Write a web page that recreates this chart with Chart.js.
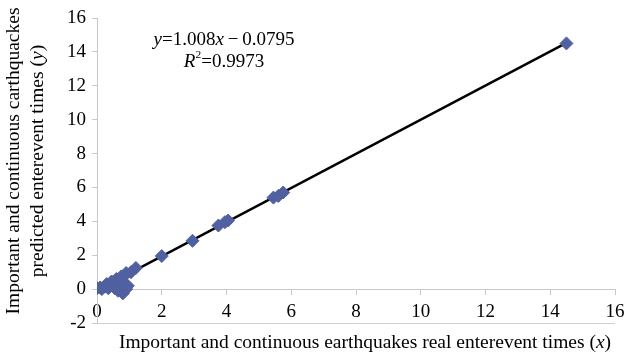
<!DOCTYPE html>
<html>
<head>
<meta charset="utf-8">
<script src="https://cdn.jsdelivr.net/npm/chart.js@4/dist/chart.umd.min.js"></script>
<style>
  html, body { margin: 0; padding: 0; background: #fff; }
  #wrap { width: 627px; height: 358px; }
</style>
</head>
<body>
<div id="wrap"><canvas id="fitChart"></canvas></div>
<script>
// real vs predicted enterevent times
const realTimes = [
  -0.1, 0.0, 0.1, 0.15, 0.25, 0.3, 0.35, 0.4, 0.45, 0.5, 0.55, 0.55, 0.6, 0.65,
  0.7, 0.75, 0.75, 0.8, 0.85, 0.9, 0.9, 0.95, 1.05, 1.2,
  2.0, 2.95, 3.75, 3.95, 4.05, 5.45, 5.6, 5.75, 14.5
];
const predictedTimes = [
  0.0, 0.05, 0.1, 0.0, 0.15, 0.3, 0.05, 0.25, 0.45, 0.2, 0.4, 0.05, 0.6, -0.1,
  0.55, 0.75, 0.1, -0.25, 0.8, 0.95, 0.0, 0.2, 1.0, 1.25,
  1.95, 2.85, 3.75, 3.95, 4.05, 5.4, 5.5, 5.7, 14.5
];
const xTicks = [0, 2, 4, 6, 8, 10, 12, 14, 16];
const yTicks = [-2, 0, 2, 4, 6, 8, 10, 12, 14, 16];

// regression y = a*x + b
const slope = 1.008;
const intercept = -0.0795;
const rSquared = 0.9973;

const SERIF = '"Liberation Serif", "DejaVu Serif", serif';
const pointColor = '#5060a0';

const points = realTimes.map((x, i) => ({ x: x, y: predictedTimes[i] }));
const fitX = [0, Math.max(...realTimes)];
const fitLine = fitX.map(x => ({ x: x, y: slope * x + intercept }));

// draws a row of text pieces, some in italics
function drawRich(ctx, parts, cx, cy, size) {
  let total = 0;
  parts.forEach(p => {
    ctx.font = (p.it ? 'italic ' : '') + (p.sup ? size * 0.6 : size) + 'px ' + SERIF;
    p.w = ctx.measureText(p.t).width;
    total += p.w;
  });
  let x = cx - total / 2;
  parts.forEach(p => {
    ctx.font = (p.it ? 'italic ' : '') + (p.sup ? size * 0.6 : size) + 'px ' + SERIF;
    ctx.fillText(p.t, x, p.sup ? cy - size * 0.35 : cy);
    x += p.w;
  });
}

const labelsPlugin = {
  id: 'labelsPlugin',
  afterDraw(chart) {
    const ctx = chart.ctx;
    ctx.save();
    ctx.fillStyle = '#000';
    ctx.textBaseline = 'middle';
    ctx.textAlign = 'left';
    const fs = 19.5;
    // equation box
    drawRich(ctx, [
      { t: 'y', it: true }, { t: '=' + slope.toFixed(3) },
      { t: 'x', it: true }, { t: '\u2009\u2212\u2009' + Math.abs(intercept).toFixed(4) }
    ], 224, 40, 19);
    drawRich(ctx, [
      { t: 'R', it: true }, { t: '2', sup: true }, { t: '=' + rSquared.toFixed(4) }
    ], 224, 62, 19);
    // x axis title
    drawRich(ctx, [
      { t: 'Important and continuous earthquakes real enterevent times (' },
      { t: 'x', it: true }, { t: ')' }
    ], 365, 343, fs);
    // y axis title, two rotated lines
    ctx.save();
    ctx.translate(14, 161);
    ctx.rotate(-Math.PI / 2);
    drawRich(ctx, [{ t: 'Important and continuous carthquackes' }], 0, 0, fs);
    ctx.restore();
    ctx.save();
    ctx.translate(38, 161);
    ctx.rotate(-Math.PI / 2);
    drawRich(ctx, [
      { t: 'predicted enterevent times (' }, { t: 'y', it: true }, { t: ')' }
    ], 0, 0, fs);
    ctx.restore();
    ctx.restore();
  }
};

new Chart(document.getElementById('fitChart'), {
  type: 'scatter',
  data: {
    datasets: [
      {
        type: 'line',
        data: fitLine,
        borderColor: '#000',
        borderWidth: 2.5,
        pointRadius: 0,
        fill: false,
        order: 2
      },
      {
        data: points,
        pointStyle: 'rectRot',
        pointRadius: 6.5,
        pointBackgroundColor: pointColor,
        pointBorderColor: pointColor,
        pointBorderWidth: 1,
        order: 1
      }
    ]
  },
  plugins: [labelsPlugin],
  options: {
    responsive: true,
    maintainAspectRatio: false,
    animation: false,
    layout: { padding: { left: 61, right: 12, top: 18, bottom: 35 } },
    plugins: { legend: { display: false }, tooltip: { enabled: false } },
    scales: {
      x: {
        type: 'linear',
        position: { y: 0 },
        min: 0,
        max: 16,
        afterBuildTicks: s => { s.ticks = xTicks.map(v => ({ value: v })); },
        afterFit: s => { s.paddingRight = 0; s.paddingLeft = 0; },
        ticks: { color: '#000', padding: 7, font: { family: SERIF, size: 19 } },
        grid: { drawOnChartArea: false, drawTicks: true, tickLength: 5, color: '#c8c8c8' },
        border: { display: true, color: '#c8c8c8', width: 1 }
      },
      y: {
        type: 'linear',
        min: -2,
        max: 16,
        afterBuildTicks: s => { s.ticks = yTicks.map(v => ({ value: v })); },
        ticks: { color: '#000', padding: 6, font: { family: SERIF, size: 19 } },
        grid: {
          drawTicks: true,
          tickLength: 5,
          color: c => (c.tick && c.tick.value === -2 ? '#d0d0d0' : 'rgba(0,0,0,0)'),
          tickColor: '#c8c8c8'
        },
        border: { display: true, color: '#c8c8c8', width: 1 }
      }
    }
  }
});
</script>
</body>
</html>
